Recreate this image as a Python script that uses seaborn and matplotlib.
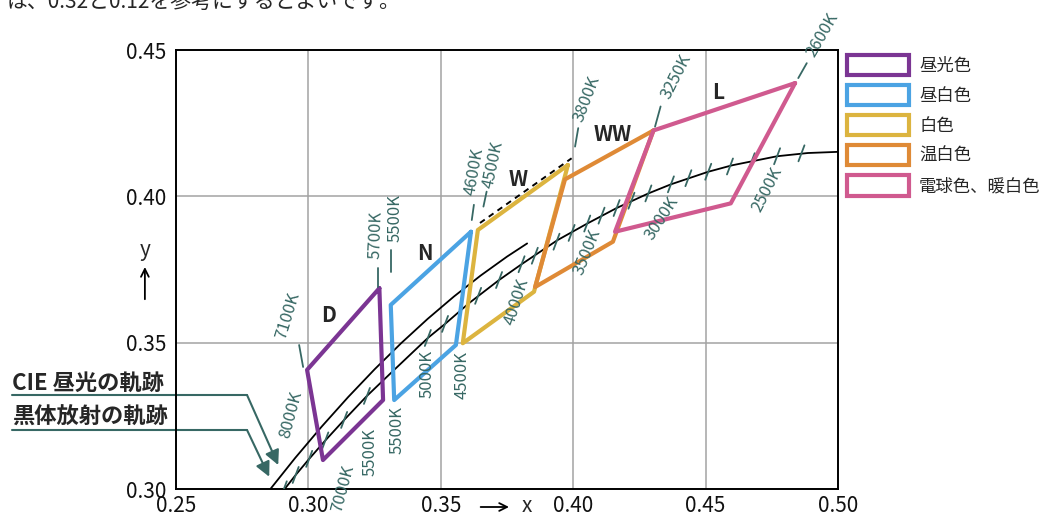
import numpy as np
import pandas as pd
import seaborn as sns
import matplotlib.pyplot as plt
from matplotlib.patches import Patch

# colour ranges (x, y corners)
D_x = [0.3268, 0.2995, 0.3055, 0.3282]
D_y = [0.3686, 0.3407, 0.3099, 0.3304]
N_x = [0.3614, 0.3311, 0.3324, 0.3557]
N_y = [0.3879, 0.3629, 0.3304, 0.3492]
W_x = [0.3980, 0.3640, 0.3583, 0.3852]
W_y = [0.4107, 0.3885, 0.3498, 0.3674]
WW_x = [0.4303, 0.3969, 0.3856, 0.4150]
WW_y = [0.4225, 0.4058, 0.3690, 0.3845]
L_x = [0.4838, 0.4303, 0.4158, 0.4595]
L_y = [0.4387, 0.4225, 0.3879, 0.3976]
W_dash_x = [0.3648, 0.3994]
W_dash_y = [0.3909, 0.4130]

names = ['昼光色', '昼白色', '白色', '温白色', '電球色、暖白色']
codes = ['D', 'N', 'W', 'WW', 'L']
code_x = [0.3078, 0.3440, 0.3791, 0.4150, 0.4549]
code_y = [0.3593, 0.3805, 0.4058, 0.4210, 0.4355]
colors = ['#7b3593', '#4ba3e3', '#dcb43f', '#df8a36', '#d05a8f']

# CIE daylight locus
day_x = [0.2845, 0.295, 0.305, 0.315, 0.325, 0.335, 0.345, 0.355, 0.365, 0.375, 0.3826]
day_y = [0.2987, 0.3106, 0.3213, 0.3314, 0.3409, 0.3498, 0.3581, 0.3658, 0.3729, 0.3794, 0.3839]

# black body locus
planck_x = [0.2867, 0.2952, 0.3003, 0.3064, 0.3135, 0.3221, 0.3325, 0.3451, 0.3516, 0.3608,
            0.3720, 0.3805, 0.3940, 0.4053, 0.4164, 0.4284, 0.4369, 0.4510, 0.4600, 0.4770,
            0.4886, 0.5000]
planck_y = [0.2950, 0.3048, 0.3103, 0.3166, 0.3236, 0.3318, 0.3408, 0.3516, 0.3564, 0.3636,
            0.3714, 0.3768, 0.3850, 0.3907, 0.3960, 0.4010, 0.4041, 0.4084, 0.4106, 0.4137,
            0.4148, 0.4152]

# small isotemperature ticks on the locus
tick_x = [0.2907, 0.2952, 0.3003, 0.3064, 0.3135, 0.3221, 0.3451, 0.3516, 0.3641, 0.3720,
          0.3805, 0.3855, 0.3937, 0.3994, 0.4053, 0.4107, 0.4164, 0.4220, 0.4284, 0.4369,
          0.4435, 0.4510, 0.4592, 0.4674, 0.4770, 0.4862]
tick_y = [0.2999, 0.3048, 0.3103, 0.3166, 0.3236, 0.3318, 0.3516, 0.3564, 0.3660, 0.3714,
          0.3768, 0.3797, 0.3845, 0.3875, 0.3907, 0.3934, 0.3960, 0.3985, 0.4010, 0.4041,
          0.4062, 0.4084, 0.4102, 0.4120, 0.4137, 0.4147]

# temperature labels above the ranges, with their leader lines
up_text = ['7100K', '5700K', '5500K', '4600K', '4500K', '3800K', '3250K', '2600K']
up_x0 = [0.2980, 0.3263, 0.3311, 0.3617, 0.3661, 0.4007, 0.4309, 0.4850]
up_y0 = [0.3417, 0.3691, 0.3742, 0.3919, 0.3965, 0.4170, 0.4238, 0.4404]
up_x1 = [0.2965, 0.3263, 0.3311, 0.3625, 0.3673, 0.4019, 0.4330, 0.4882]
up_y1 = [0.3492, 0.3754, 0.3817, 0.3971, 0.4016, 0.4233, 0.4307, 0.4455]
up_lx = [0.2923, 0.3255, 0.3327, 0.3625, 0.3697, 0.4052, 0.4388, 0.4943]
up_ly = [0.3591, 0.3868, 0.3926, 0.4083, 0.4107, 0.4333, 0.4408, 0.4552]
up_rot = [73, 88, 90, 80, 78, 69, 63, 60]

# temperature labels below
low_text = ['8000K', '7000K', '5500K', '5500K', '5000K', '4500K', '4000K', '3500K', '3000K', '2500K']
low_x = [0.2934, 0.3131, 0.3233, 0.3335, 0.3448, 0.3580, 0.3788, 0.4052, 0.4335, 0.4732]
low_y = [0.3253, 0.3003, 0.3126, 0.3202, 0.3393, 0.3390, 0.3639, 0.3810, 0.3926, 0.4022]
low_rot = [75, 75, 90, 90, 90, 90, 72, 68, 57, 63]

TEAL = '#376864'

sns.set_theme(style='white')
plt.rcParams['font.family'] = ['Noto Sans CJK JP', 'DejaVu Sans']

fig = plt.figure(figsize=(10.48, 5.18), dpi=100)
ax = fig.add_axes([176 / 1048, 1 - 489 / 518, 662 / 1048, 439 / 518])

ax.set_xlim(0.25, 0.50)
ax.set_ylim(0.30, 0.45)
ax.set_xticks(np.arange(0.25, 0.501, 0.05))
ax.set_yticks(np.arange(0.30, 0.451, 0.05))
ax.set_xticklabels(['%.2f' % v for v in np.arange(0.25, 0.501, 0.05)])
ax.set_yticklabels(['%.2f' % v for v in np.arange(0.30, 0.451, 0.05)])
ax.tick_params(length=0, labelsize=15, colors='#111111')
ax.tick_params(axis='x', pad=4)
ax.tick_params(axis='y', pad=7)
ax.grid(True, color='#a3a3a3', lw=1.1)
ax.set_axisbelow(True)
for s in ax.spines.values():
    s.set_color('black')
    s.set_linewidth(1.4)

# loci
sns.lineplot(x=day_x, y=day_y, sort=False, estimator=None, color='black', lw=1.3, ax=ax, zorder=3)
sns.lineplot(x=planck_x, y=planck_y, sort=False, estimator=None, color='black', lw=1.3, ax=ax, zorder=3)
for tx, ty in zip(tick_x, tick_y):
    ax.plot([tx - 0.00113, tx + 0.00113], [ty - 0.00273, ty + 0.00273], color=TEAL, lw=1.3, zorder=3)

# the five ranges
quads = [(D_x, D_y), (N_x, N_y), (W_x, W_y), (WW_x, WW_y), (L_x, L_y)]
for (qx, qy), c in zip(quads, colors):
    sns.lineplot(x=qx + qx[:1], y=qy + qy[:1], sort=False, estimator=None,
                 color=c, lw=3, ax=ax, zorder=4)
sns.lineplot(x=W_dash_x, y=W_dash_y, sort=False, estimator=None, color='black',
             lw=1.4, ax=ax, zorder=4, dashes=False, linestyle=(0, (3, 2.5)))

for t, x, y in zip(codes, code_x, code_y):
    ax.text(x, y, t, fontsize=15, fontweight='bold', ha='center', va='center', zorder=5)

for i in range(len(up_text)):
    ax.plot([up_x0[i], up_x1[i]], [up_y0[i], up_y1[i]], color=TEAL, lw=1.3, zorder=5, clip_on=False)
    ax.text(up_lx[i], up_ly[i], up_text[i], rotation=up_rot[i], color=TEAL, fontsize=12,
            ha='center', va='center', zorder=5)
for t, x, y, r in zip(low_text, low_x, low_y, low_rot):
    ax.text(x, y, t, rotation=r, color=TEAL, fontsize=12, ha='center', va='center', zorder=5)

# axis names with arrows
xt = ax.get_xaxis_transform()
ax.annotate('', xy=(0.3768, -0.041), xytext=(0.3640, -0.041), xycoords=xt, textcoords=xt,
            arrowprops=dict(arrowstyle='->', color='black', lw=1.3, mutation_scale=14))
ax.text(0.3826, -0.038, 'x', transform=xt, fontsize=15, ha='center', va='center')
ax.text(-0.047, 0.544, 'y', transform=ax.transAxes, fontsize=15, ha='center', va='center')
ax.annotate('', xy=(-0.047, 0.512), xytext=(-0.047, 0.426), xycoords='axes fraction',
            arrowprops=dict(arrowstyle='->', color='black', lw=1.3, mutation_scale=14))

# locus call-outs on the left
callouts = [('CIE 昼光の軌跡', 0.2415, 0.2141, (0.2886, 0.3082)),
            ('黒体放射の軌跡', 0.1640, 0.1344, (0.2852, 0.3042))]
for txt, ty, ly, tip in callouts:
    ax.text(-0.2477, ty, txt, transform=ax.transAxes, fontsize=16, fontweight='bold',
            ha='left', va='center')
    ax.plot([-0.2477, 0.1073], [ly, ly], transform=ax.transAxes, color=TEAL, lw=1.5, clip_on=False)
    ax.annotate('', xy=tip, xytext=(0.1073, ly), textcoords='axes fraction',
                arrowprops=dict(arrowstyle='-|>', color=TEAL, lw=1.5, mutation_scale=22,
                                shrinkA=0, shrinkB=0))

handles = [Patch(facecolor='white', edgecolor=c, linewidth=3) for c in colors]
fig.legend(handles, names, loc='upper left', bbox_to_anchor=(847 / 1048, 1 - 55 / 518),
           bbox_transform=fig.transFigure, frameon=False, fontsize=12.5, borderpad=0,
           borderaxespad=0, handlelength=3.55, handleheight=1.4, labelspacing=0.58,
           handletextpad=0.6)

# cropped sentence at the very top of the screenshot
fig.text(0.006, 1 - 8 / 518, 'は、0.32と0.12を参考にするとよいです。', fontsize=15, va='baseline')

fig.savefig('out.png', dpi=100)
